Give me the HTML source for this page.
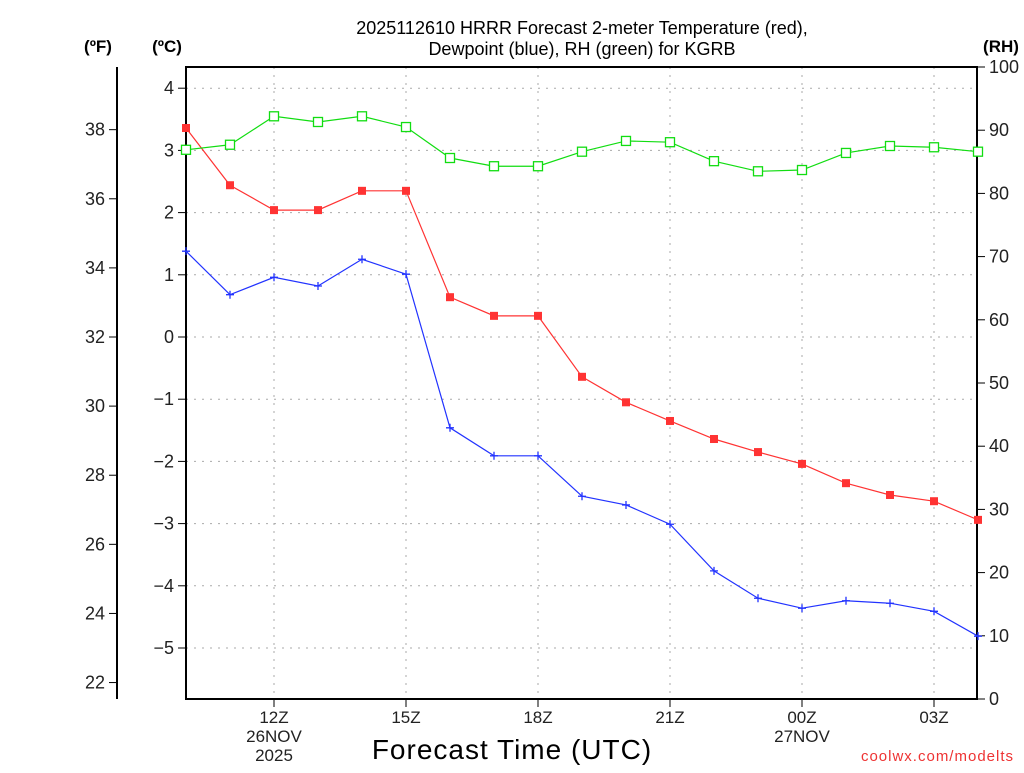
<!DOCTYPE html>
<html><head><meta charset="utf-8"><style>
body{margin:0;background:#fff;width:1024px;height:768px;overflow:hidden;font-family:"Liberation Sans","DejaVu Sans",sans-serif}
svg text{font-family:"Liberation Sans","DejaVu Sans",sans-serif}
</style></head><body>
<svg id="chart" width="1024" height="768" xmlns="http://www.w3.org/2000/svg">
<g id="g"></g>
<text x="582" y="34" text-anchor="middle" font-size="18" fill="#000" font-family="DejaVu Sans Mono">2025112610 HRRR Forecast 2-meter Temperature (red),</text>
<text x="582" y="55" text-anchor="middle" font-size="18" fill="#000" font-family="DejaVu Sans Mono">Dewpoint (blue), RH (green) for KGRB</text>
<text x="98" y="52" text-anchor="middle" font-size="17" font-weight="bold">(ºF)</text>
<text x="167" y="52" text-anchor="middle" font-size="17" font-weight="bold">(ºC)</text>
<text x="1001" y="52" text-anchor="middle" font-size="17" font-weight="bold">(RH)</text>
<text x="512" y="759" text-anchor="middle" font-size="28" fill="#000" letter-spacing="1">Forecast Time (UTC)</text>
<text x="1014" y="761" text-anchor="end" font-size="15" fill="#ee3333" letter-spacing="1">coolwx.com/modelts</text>
</svg>
<script>
const hours=[0,1,2,3,4,5,6,7,8,9,10,11,12,13,14,15,16,17,18];
const tempC=[3.36,2.44,2.04,2.04,2.35,2.35,0.64,0.34,0.34,-0.64,-1.05,-1.35,-1.64,-1.85,-2.04,-2.35,-2.54,-2.64,-2.94];
const dewC=[1.38,0.68,0.96,0.82,1.25,1.01,-1.46,-1.91,-1.91,-2.56,-2.70,-3.01,-3.76,-4.20,-4.36,-4.24,-4.28,-4.41,-4.81];
const rh=[86.9,87.7,92.2,91.3,92.2,90.5,85.6,84.3,84.3,86.6,88.3,88.1,85.1,83.5,83.7,86.4,87.5,87.3,86.6];
const cTicks=[4,3,2,1,0,-1,-2,-3,-4,-5];
const fTicks=[38,36,34,32,30,28,26,24,22];
const rhTicks=[0,10,20,30,40,50,60,70,80,90,100];
const xTickHours=[2,5,8,11,14,17];
const xTickLabels=["12Z","15Z","18Z","21Z","00Z","03Z"];
const L=186,R=977,T=67,B=699;
const X=h=>L+h*44;
const YC=c=>337-62.2*c;
const YF=f=>YC((f-32)*5/9);
const YR=r=>B-r*(B-T)/100;
const g=document.getElementById('g');
function el(t,a,txt){const e=document.createElementNS('http://www.w3.org/2000/svg',t);for(const k in a)e.setAttribute(k,a[k]);if(txt!==undefined)e.textContent=txt;g.appendChild(e);return e;}
cTicks.forEach(c=>{const e=el('line',{x1:L,x2:R,y1:YC(c),y2:YC(c),stroke:'#aaa','stroke-dasharray':'2,6'});

});
xTickHours.forEach(h=>{const e=el('line',{x1:X(h),x2:X(h),y1:T,y2:B,stroke:'#aaa','stroke-dasharray':'2,6'});

});
let f=el('rect',{x:L,y:T,width:R-L,height:B-T,fill:'none',stroke:'#000','stroke-width':2});


cTicks.forEach(c=>{el('line',{x1:L-8,x2:L,y1:YC(c),y2:YC(c),stroke:'#000'});
const t=el('text',{x:L-12,y:YC(c)+6,'text-anchor':'end','font-size':18,fill:'#222'},c<0?'\u2212'+(-c):String(c));

});
el('line',{x1:117,x2:117,y1:T,y2:B,stroke:'#000','stroke-width':2});
fTicks.forEach(v=>{el('line',{x1:109,x2:117,y1:YF(v),y2:YF(v),stroke:'#000'});
const t=el('text',{x:105,y:YF(v)+6,'text-anchor':'end','font-size':18,fill:'#222'},String(v));

});
rhTicks.forEach(v=>{el('line',{x1:R,x2:R+8,y1:YR(v),y2:YR(v),stroke:'#000'});
const t=el('text',{x:R+12,y:YR(v)+6,'font-size':18,fill:'#222'},String(v));

});
xTickHours.forEach((h,i)=>{el('line',{x1:X(h),x2:X(h),y1:B,y2:B+8,stroke:'#000'});
const t=el('text',{x:X(h),y:723,'text-anchor':'middle','font-size':17,fill:'#222'},xTickLabels[i]);

});
[[274,'26NOV',742],[274,'2025',761],[802,'27NOV',742]].forEach(a=>{const t=el('text',{x:a[0],y:a[2],'text-anchor':'middle','font-size':17,fill:'#222'},a[1]);

});
function series(vals,yf,color,name,marker){
 const pts=hours.map((h,i)=>X(h)+','+yf(vals[i])).join(' ');
 const p=el('polyline',{points:pts,fill:'none',stroke:color,'stroke-width':1.2});
 
 
 hours.forEach((h,i)=>{const x=X(h),y=yf(vals[i]);let m;
  if(marker==='sq')m=el('rect',{x:x-4,y:y-4,width:8,height:8,fill:color});
  else if(marker==='osq')m=el('rect',{x:x-4.5,y:y-4.5,width:9,height:9,fill:'#fff',stroke:color,'stroke-width':1.3});
  else m=el('path',{d:`M${x-4} ${y}H${x+4}M${x} ${y-4}V${y+4}`,stroke:color,'stroke-width':1.3});
  
  });
}
series(tempC,YC,'#ff3333','temperature','sq');
series(dewC,YC,'#2233ff','dewpoint','plus');
series(rh,YR,'#11dd11','rh','osq');
</script>
</body></html>
